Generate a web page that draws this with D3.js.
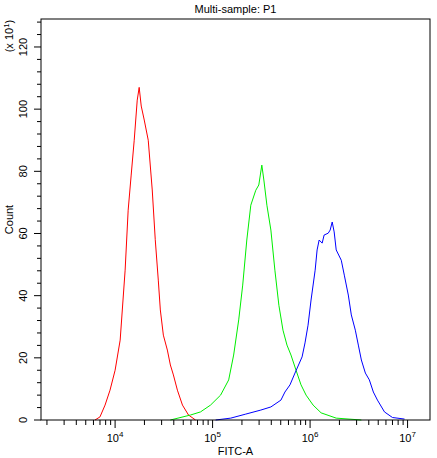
<!DOCTYPE html><html><head><meta charset="utf-8"><script src="https://cdn.jsdelivr.net/npm/d3@7"></script>
<style>body{margin:0;background:#fff}text{font-family:"Liberation Sans",Arial,sans-serif}</style></head><body><svg id="c" width="437" height="458"></svg><script>
const redLog=[3.794,3.845,3.897,3.948,4.0,4.052,4.103,4.134,4.165,4.196,4.227,4.247,4.268,4.299,4.340,4.381,4.412,4.443,4.464,4.495,4.536,4.567,4.598,4.639,4.691,4.753,4.825];
const redCount=[0,1,4.8,9.6,16,25.7,48.2,67.5,78.8,90,102.9,107,101,96.5,90,74,58,45,35.4,27.3,22.5,17.7,14.5,9.6,4.8,1.6,0];
const greenLog=[4.567,4.773,4.876,4.979,5.082,5.165,5.216,5.268,5.309,5.351,5.392,5.443,5.474,5.505,5.526,5.557,5.598,5.639,5.680,5.722,5.763,5.804,5.856,5.907,5.959,6.031,6.113,6.268,6.526];
const greenCount=[0,1.6,2.6,4.8,8,12.9,20.9,32.2,43.4,57.9,69.1,73.9,75.6,82,77.2,69.1,61.1,48.2,36.9,28.9,24.1,20.9,16,11.3,8,4.8,2.3,0.6,0];
const blueLog=[5.031,5.186,5.340,5.495,5.598,5.701,5.742,5.794,5.845,5.918,5.948,5.979,6.010,6.052,6.072,6.093,6.124,6.144,6.186,6.206,6.227,6.247,6.268,6.320,6.351,6.392,6.423,6.464,6.495,6.526,6.567,6.608,6.649,6.691,6.763,6.845,6.969];
const blueCount=[0,0.6,1.9,3.2,4.2,6.4,9,11.3,15.1,20.3,24.8,30.5,38.6,48.2,54.7,57.9,56.9,59.5,60.1,61.1,63.7,60.5,54.7,51.4,46.6,40.2,33.8,28.9,24.1,19.3,15.1,12.9,9,6.4,2.6,0.8,0.3];
const yTicks=[0,20,40,60,80,100,120];
const xTicks=[1e4,1e5,1e6,1e7];
const svg=d3.select("#c");
const L=41,R=430,T=19,B=420;
const x=d3.scaleLinear().domain([3.24,7.23]).range([L,R]);
const y=d3.scaleLinear().domain([0,129]).range([B,T]);
const g=svg.append("g");
const minors=[];for(let d=3;d<=7;d++)for(let m=1;m<=9;m++){const v=d+Math.log10(m);if(v>=3.24&&v<=7.23)minors.push({v,maj:m===1});}
g.selectAll(".mx").data(minors).join("line").attr("x1",d=>x(d.v)).attr("x2",d=>x(d.v)).attr("y1",B).attr("y2",d=>B+(d.maj?8:5)).attr("stroke","#000");
const ym=d3.range(0,129,4);
g.selectAll(".my").data(ym).join("line").attr("y1",d=>y(d)).attr("y2",d=>y(d)).attr("x1",L).attr("x2",d=>L-(d%20===0?7:4)).attr("stroke","#000");
g.selectAll(".yl").data(yTicks).join("text").attr("transform",d=>`translate(27,${y(d)}) rotate(-90)`).attr("text-anchor","middle").attr("font-size",11).text(d=>d);
const xl=g.selectAll(".xl").data(xTicks).join("text").attr("x",d=>x(Math.log10(d))).attr("y",442).attr("text-anchor","middle").attr("font-size",11);
xl.append("tspan").text("10");xl.append("tspan").attr("dy",-5).attr("font-size",8).text(d=>Math.round(Math.log10(d)));
const line=d3.line().x(d=>x(d[0])).y(d=>y(d[1]));
[[redLog,redCount,"#ff0000"],[greenLog,greenCount,"#00ee00"],[blueLog,blueCount,"#0000ff"]].forEach(([a,b,c])=>{
 svg.append("path").attr("d",line(a.map((v,i)=>[v,b[i]]))).attr("fill","none").attr("stroke",c).attr("stroke-width",1);
});
svg.append("rect").attr("x",L).attr("y",T).attr("width",R-L).attr("height",B-T).attr("fill","none").attr("stroke","#000");
svg.append("text").attr("x",(L+R)/2).attr("y",13).attr("text-anchor","middle").attr("font-size",11).text("Multi-sample: P1");
svg.append("text").attr("x",(L+R)/2).attr("y",455).attr("text-anchor","middle").attr("font-size",11).text("FITC-A");
svg.append("text").attr("transform",`translate(13,${(T+B)/2}) rotate(-90)`).attr("text-anchor","middle").attr("font-size",11).text("Count");
const t=svg.append("text").attr("transform","translate(13,36) rotate(-90)").attr("text-anchor","middle").attr("font-size",11);
t.append("tspan").text("(x 10");t.append("tspan").attr("dy",-4).attr("font-size",8).text("1");t.append("tspan").attr("dy",4).text(")");
</script></body></html>
